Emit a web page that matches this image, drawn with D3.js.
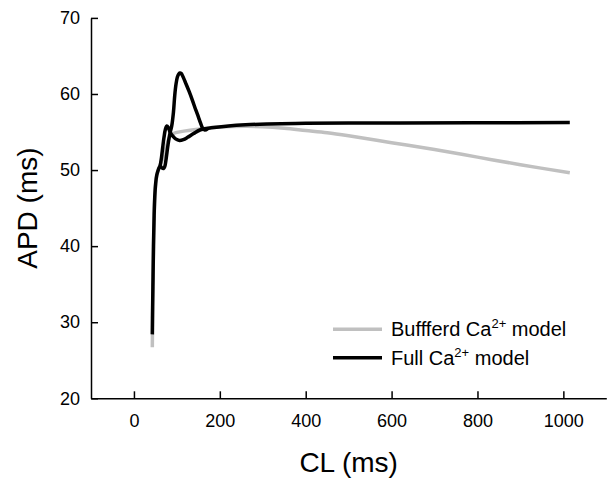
<!DOCTYPE html>
<html>
<head>
<meta charset="utf-8">
<script src="https://cdn.jsdelivr.net/npm/d3@7/dist/d3.min.js"></script>
<style>
  html, body { margin: 0; padding: 0; background: #fff; }
  svg { display: block; }
  text { font-family: "Liberation Sans", Arial, sans-serif; fill: #000; }
</style>
</head>
<body>
<svg id="chart" width="610" height="483"></svg>
<script>
// ---- data ----
const xTicks = [0, 200, 400, 600, 800, 1000];
const yTicks = [20, 30, 40, 50, 60, 70];

// Buffered Ca2+ model (grey)
const bufferedCL  = [42.8, 43.5, 44.5, 45.5, 47, 48.5, 50.5, 53, 57, 62, 67, 72, 77, 82, 88, 100, 120, 155, 200, 260, 300, 350, 400, 450, 500, 600, 700, 800, 900, 1015];
const bufferedAPD = [26.7, 31, 35.5, 39.5, 43.5, 46.2, 48.0, 49.2, 50.0, 50.8, 51.5, 52.4, 53.4, 54.2, 54.7, 54.95, 55.15, 55.4, 55.65, 55.75, 55.7, 55.5, 55.2, 54.9, 54.5, 53.6, 52.7, 51.7, 50.7, 49.65];

// Full Ca2+ model (black) - main branch incl. lower alternans branch and plateau
const fullCL  = [42.8, 43.5, 44.5, 45.5, 47, 48.5, 50.5, 53, 57, 61, 64, 67, 70, 73, 76.5, 80, 84, 90, 97, 106, 115, 125, 139, 155, 180, 220, 260, 310, 400, 500, 620, 800, 1015];
const fullAPD = [28.4, 32, 36, 40, 44, 46.5, 48.2, 49.3, 50.1, 50.6, 51.6, 53.0, 54.3, 55.3, 55.8, 55.6, 55.0, 54.5, 54.1, 53.9, 54.0, 54.3, 54.8, 55.3, 55.55, 55.8, 55.95, 56.05, 56.15, 56.2, 56.2, 56.22, 56.25];

// Full Ca2+ model (black) - upper alternans branch (spike)
const fullSpikeCL  = [61, 65, 69, 72, 75, 79, 83, 88, 92, 95, 98, 101, 104, 107, 110, 114, 120, 128, 136, 144, 150, 155, 160, 165, 172];
const fullSpikeAPD = [50.6, 50.3, 50.2, 50.5, 51.5, 53.2, 54.6, 55.8, 57.6, 59.8, 61.3, 62.2, 62.6, 62.75, 62.7, 62.3, 61.5, 60.4, 59.2, 57.9, 57.0, 56.2, 55.5, 55.25, 55.45];

const legendLabels = ["Buffferd Ca", "Full Ca"];

// ---- layout ----
const svg = d3.select("#chart");
const margin = { left: 91, right: 3.7, top: 17.9, bottom: 84.7 };
const W = 610, H = 483;

const x = d3.scaleLinear().domain([-100, 1100]).range([margin.left, W - margin.right]);
const y = d3.scaleLinear().domain([20, 70]).range([H - margin.bottom, margin.top]);

// axes
const xAxis = d3.axisBottom(x).tickValues(xTicks).tickFormat(d3.format("d"))
  .tickSizeInner(-7).tickSizeOuter(0).tickPadding(16);
const yAxis = d3.axisLeft(y).tickValues(yTicks).tickFormat(d3.format("d"))
  .tickSizeInner(-7).tickSizeOuter(0).tickPadding(11);

const gx = svg.append("g").attr("transform", `translate(0,${H - margin.bottom})`).call(xAxis);
const gy = svg.append("g").attr("transform", `translate(${margin.left},0)`).call(yAxis);
[gx, gy].forEach(g => {
  g.selectAll("path.domain").attr("stroke", "#000").attr("stroke-width", 1.5);
  g.selectAll(".tick line").attr("stroke", "#000").attr("stroke-width", 1.5);
  g.selectAll(".tick text").attr("font-size", 18).attr("font-family", "'Liberation Sans', Arial, sans-serif").attr("fill", "#000");
});

// titles
svg.append("text")
  .attr("x", (margin.left + W - margin.right) / 2)
  .attr("y", 472)
  .attr("text-anchor", "middle")
  .attr("font-size", 28)
  .text("CL (ms)");
svg.append("text")
  .attr("transform", `translate(37,${(margin.top + H - margin.bottom) / 2}) rotate(-90)`)
  .attr("text-anchor", "middle")
  .attr("font-size", 28)
  .text("APD (ms)");

// lines
const line = d3.line().x(d => x(d[0])).y(d => y(d[1])).curve(d3.curveCatmullRom.alpha(0.5));
const zip = (a, b) => a.map((v, i) => [v, b[i]]);

svg.append("path").datum(zip(bufferedCL, bufferedAPD))
  .attr("d", line).attr("fill", "none").attr("stroke", "#c0c0c0").attr("stroke-width", 3.5);
svg.append("path").datum(zip(fullCL, fullAPD))
  .attr("d", line).attr("fill", "none").attr("stroke", "#000").attr("stroke-width", 3.5);
svg.append("path").datum(zip(fullSpikeCL, fullSpikeAPD))
  .attr("d", line).attr("fill", "none").attr("stroke", "#000").attr("stroke-width", 3.5);

// legend
const legend = svg.append("g");
const legendColors = ["#c0c0c0", "#000"];
const legendY = [329.3, 357.7];
legendLabels.forEach((lab, i) => {
  legend.append("line")
    .attr("x1", 333).attr("x2", 382)
    .attr("y1", legendY[i]).attr("y2", legendY[i])
    .attr("stroke", legendColors[i]).attr("stroke-width", 3.5);
  const t = legend.append("text")
    .attr("x", 391).attr("y", legendY[i] + 7)
    .attr("font-size", 20);
  t.append("tspan").text(lab);
  t.append("tspan").attr("font-size", 13).attr("dy", -8).text("2+");
  t.append("tspan").attr("dy", 8).text(" model");
});
</script>
</body>
</html>
